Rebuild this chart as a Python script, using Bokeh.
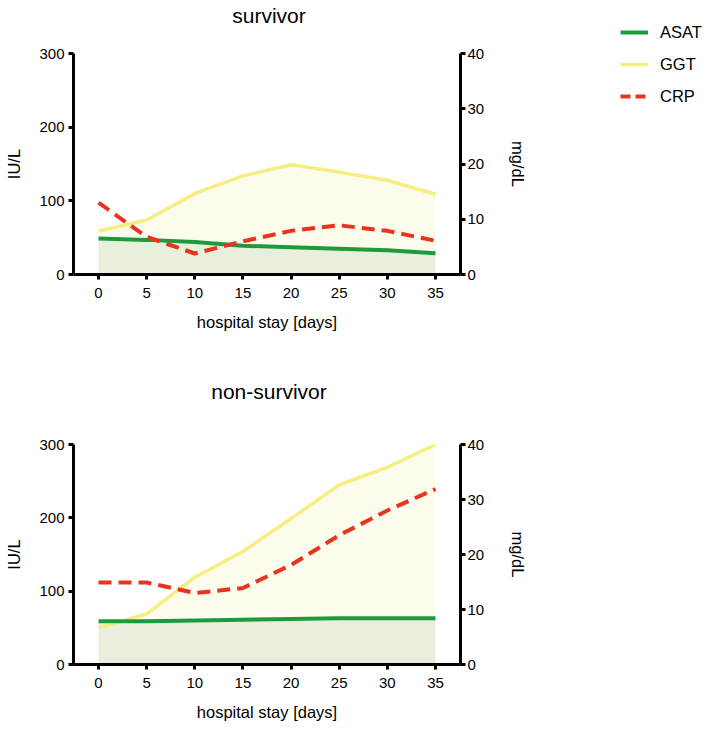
from bokeh.plotting import figure
from bokeh.models import Range1d, LinearAxis, Legend, LegendItem, FixedTicker, Div
from bokeh.layouts import column, row
from bokeh.embed import file_html
from bokeh.resources import INLINE

days = [0, 5, 10, 15, 20, 25, 30, 35]
x_ticks = [0, 5, 10, 15, 20, 25, 30, 35]
left_ticks = [0, 100, 200, 300]
right_ticks = [0, 10, 20, 30, 40]

surv_asat = [49, 47, 44, 39, 37, 35, 33, 29]
surv_ggt = [59, 74, 110, 134, 149, 139, 128, 109]
surv_crp = [13.0, 6.8, 3.8, 6.0, 7.9, 8.9, 7.9, 6.1]

nons_asat = [59, 59, 60, 61, 62, 63, 63, 63]
nons_ggt = [50, 69, 119, 154, 199, 245, 269, 300]
nons_crp = [14.9, 14.9, 13.0, 13.9, 18.1, 23.5, 28.0, 31.9]

titles = ["survivor", "non-survivor"]
series_names = ["ASAT", "GGT", "CRP"]

FONT = "Liberation Sans"
GREEN = "#1e9a3c"
YELLOW = "#f6ee80"
RED = "#e8341e"
GREEN_FILL = "#e8efdd"
YELLOW_FILL = "#fcfcec"

FIG_W = 73 + 387 + 80


def style_axis(ax, ticks):
    ax.ticker = FixedTicker(ticks=ticks)
    ax.axis_line_width = 3
    ax.axis_line_color = "black"
    ax.major_tick_line_width = 3
    ax.major_tick_line_color = "black"
    ax.major_tick_out = 5
    ax.major_tick_in = 0
    ax.minor_tick_line_color = None
    ax.major_label_text_font = FONT
    ax.major_label_text_font_size = "15px"
    ax.major_label_text_color = "black"
    ax.axis_label_text_font = FONT
    ax.axis_label_text_font_size = "16.5px"
    ax.axis_label_text_font_style = "normal"
    ax.axis_label_text_color = "black"


def make_title(text):
    return Div(text=text, width=FIG_W - 2, height=30, margin=0,
               styles={"font-family": FONT, "font-size": "21px", "line-height": "31px",
                       "text-align": "center", "color": "black"})


def make_panel(asat, ggt, crp, top_border, bottom_border, frame_h):
    p = figure(output_backend="svg", toolbar_location=None, title=None,
               frame_width=387, frame_height=frame_h,
               min_border_left=73, min_border_right=80,
               min_border_top=top_border, min_border_bottom=bottom_border,
               x_range=Range1d(-2.6, 37.6), y_range=Range1d(0, 300))
    p.extra_y_ranges = {"right": Range1d(0, 40)}
    p.outline_line_color = None
    p.xgrid.visible = False
    p.ygrid.visible = False
    p.background_fill_color = "white"
    p.border_fill_color = "white"

    style_axis(p.xaxis[0], x_ticks)
    p.xaxis[0].axis_label = "hospital stay [days]"
    p.xaxis[0].axis_label_standoff = 12
    p.xaxis[0].major_label_standoff = 8
    style_axis(p.yaxis[0], left_ticks)
    p.yaxis[0].axis_label = "IU/L"
    p.yaxis[0].axis_label_standoff = 13
    p.yaxis[0].major_label_standoff = 4

    ra = LinearAxis(y_range_name="right", axis_label="mg/dL")
    style_axis(ra, right_ticks)
    ra.axis_label_standoff = 22
    ra.major_label_standoff = 2
    p.add_layout(ra, "right")

    p.varea(x=days, y1=[0] * len(days), y2=ggt, fill_color=YELLOW_FILL)
    p.varea(x=days, y1=[0] * len(days), y2=asat, fill_color=GREEN_FILL)
    p.line(days, ggt, line_color=YELLOW, line_width=3.5)
    p.line(days, asat, line_color=GREEN, line_width=4)
    p.line(days, crp, line_color=RED, line_width=4, line_dash="13 7",
           y_range_name="right")
    return p


t1 = make_title(titles[0])
p1 = make_panel(surv_asat, surv_ggt, surv_crp, 23, 102, 221)
t2 = make_title(titles[1])
p2 = make_panel(nons_asat, nons_ggt, nons_crp, 38, 50, 220)

# legend figure
lf = figure(output_backend="svg", toolbar_location=None, title=None,
            frame_width=165, frame_height=150,
            min_border_left=0, min_border_right=0, min_border_top=0, min_border_bottom=0,
            x_range=Range1d(0, 1), y_range=Range1d(0, 1))
lf.axis.visible = False
lf.grid.visible = False
lf.outline_line_color = None
lf.background_fill_color = "white"
lf.border_fill_color = "white"
la = lf.line([5, 6], [5, 6], line_color=GREEN, line_width=4)
lg = lf.line([5, 6], [5, 6], line_color=YELLOW, line_width=3.5)
lc = lf.line([5, 6], [5, 6], line_color=RED, line_width=4, line_dash="10 5")
leg = Legend(items=[LegendItem(label=series_names[0], renderers=[la]),
                    LegendItem(label=series_names[1], renderers=[lg]),
                    LegendItem(label=series_names[2], renderers=[lc])],
             location=(80, 44), border_line_color=None, background_fill_alpha=0,
             label_text_font=FONT, label_text_font_size="16.5px", label_text_color="black",
             glyph_width=28, glyph_height=20, label_height=20, spacing=12,
             label_standoff=12, padding=10, margin=0)
lf.add_layout(leg, "center")

layout = row(column(t1, p1, t2, p2, spacing=0), lf, spacing=0)
open("out.html", "w").write(file_html(layout, INLINE))
